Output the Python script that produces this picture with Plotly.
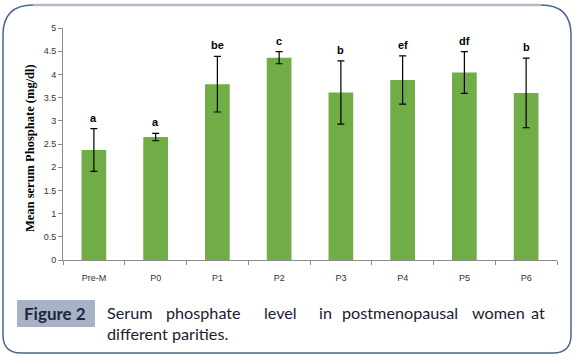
import plotly.graph_objects as go

categories = ["Pre-M", "P0", "P1", "P2", "P3", "P4", "P5", "P6"]
means = [2.37, 2.65, 3.79, 4.36, 3.61, 3.88, 4.04, 3.60]
errors = [0.46, 0.08, 0.60, 0.13, 0.68, 0.52, 0.45, 0.75]
letters = ["a", "a", "be", "c", "b", "ef", "df", "b"]
y_ticks = [0, 0.5, 1, 1.5, 2, 2.5, 3, 3.5, 4, 4.5, 5]
caption_line1 = ["Serum", "phosphate", "level", "in", "postmenopausal", "women", "at"]
caption_line2 = "different parities."

W, H = 575, 354
L, R, T, B = 63, 557, 28, 260


def X(px):
    return (px - L) / (R - L)


def Y(py):
    return (B - py) / (B - T)


fig = go.Figure()
fig.add_trace(go.Bar(
    x=categories, y=means, width=0.4,
    marker=dict(color="#70ad47", line=dict(width=0)),
    error_y=dict(type="data", array=errors, visible=True, color="black",
                 thickness=1.2, width=3.5),
    showlegend=False,
))

annotations = []
for c, m, e, t in zip(categories, means, errors, letters):
    annotations.append(dict(x=c, y=m + e, text=t, showarrow=False, yshift=11,
                            xref="x", yref="y", xanchor="center", yanchor="middle",
                            font=dict(family="Liberation Sans", size=11, color="black", weight="bold")))

# y-axis title
annotations.append(dict(x=X(30), y=Y(148), xref="paper", yref="paper",
                        xanchor="center", yanchor="middle",
                        text="Mean serum Phosphate (mg/dl)", textangle=-90,
                        showarrow=False,
                        font=dict(family="Liberation Serif", size=12.5, color="black", weight="bold")))

# Figure label
annotations.append(dict(x=X(54.5), y=Y(313.5), xref="paper", yref="paper",
                        xanchor="center", yanchor="middle",
                        text="Figure 2", showarrow=False,
                        font=dict(family="Lato", size=17, color="#1c2640", weight="bold")))

# justified caption line 1
word_x = [105, 164, 262, 317, 340, 470, 529]
for w, wx in zip(caption_line1, word_x):
    annotations.append(dict(x=X(wx), y=Y(312), xref="paper", yref="paper",
                            text=w, showarrow=False, xanchor="left", yanchor="middle",
                            font=dict(family="Lato", size=16.2, color="#1c2030")))
annotations.append(dict(x=X(105), y=Y(333), xref="paper", yref="paper",
                        text=caption_line2, showarrow=False, xanchor="left", yanchor="middle",
                        font=dict(family="Lato", size=16.2, color="#1c2030")))

shapes = []
# label box
shapes.append(dict(type="rect", xref="paper", yref="paper",
                   x0=X(17), x1=X(95), y0=Y(300), y1=Y(327),
                   fillcolor="#a8b2c6", line=dict(width=0), layer="below"))

# rounded frame
lx, rx, ty, by = 3, 571, 5, 353
rt, rb = 30, 18
side = (f"M {X(lx+rt)} {Y(ty)} Q {X(lx)} {Y(ty)} {X(lx)} {Y(ty+rt)} "
        f"L {X(lx)} {Y(by-rb)} Q {X(lx)} {Y(by)} {X(lx+rb)} {Y(by)} "
        f"L {X(rx-rb)} {Y(by)} Q {X(rx)} {Y(by)} {X(rx)} {Y(by-rb)} "
        f"L {X(rx)} {Y(ty+rt)} Q {X(rx)} {Y(ty)} {X(rx-rt)} {Y(ty)}")
shapes.append(dict(type="path", xref="paper", yref="paper", path=side,
                   line=dict(color="#4a6690", width=1.5)))
shapes.append(dict(type="line", xref="paper", yref="paper",
                   x0=X(lx+rt), x1=X(rx-rt), y0=Y(ty), y1=Y(ty),
                   line=dict(color="#b3bac6", width=2.5)))

fig.update_layout(
    width=W, height=H,
    margin=dict(l=L, r=W - R, t=T, b=H - B),
    paper_bgcolor="white", plot_bgcolor="white",
    bargap=0.6,
    annotations=annotations, shapes=shapes,
    xaxis=dict(showline=True, linecolor="#8c8c8c", linewidth=1,
               ticks="outside", tickson="boundaries", ticklen=4, tickcolor="#8c8c8c",
               ticklabelstandoff=9,
               tickfont=dict(family="Liberation Sans", size=9, color="#333333"),
               showgrid=False, zeroline=False),
    yaxis=dict(range=[0, 5], tickvals=y_ticks, ticktext=[f"{v:g}" for v in y_ticks],
               showline=True, linecolor="#8c8c8c", linewidth=1,
               ticks="outside", ticklen=4, tickcolor="#8c8c8c",
               tickfont=dict(family="Liberation Sans", size=9, color="#333333"),
               showgrid=False, zeroline=False),
)

fig.write_html("out.html")
